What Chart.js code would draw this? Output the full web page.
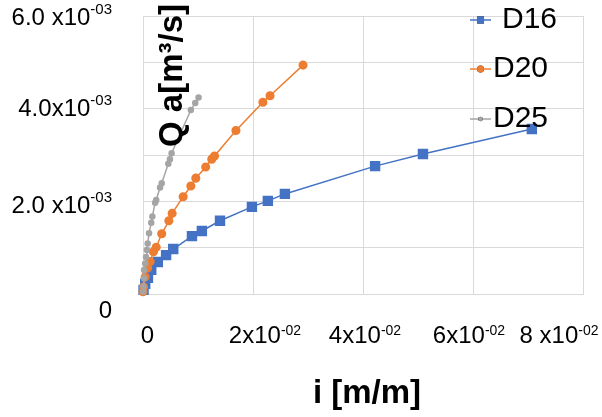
<!DOCTYPE html>
<html>
<head>
<meta charset="utf-8">
<script src="https://cdn.jsdelivr.net/npm/chart.js@4/dist/chart.umd.min.js"></script>
<style>
html,body{margin:0;padding:0;background:#fff;}
#wrap{width:602px;height:417px;position:relative;}
</style>
</head>
<body>
<div id="wrap"><canvas id="c" width="602" height="417"></canvas></div>
<script>
// ---- data (i [m/m], Q [m3/s]) ----
const seriesNames = ['D16', 'D20', 'D25'];
const d16I = [0.0001, 0.0004, 0.0009, 0.0015, 0.0027, 0.0042, 0.0055, 0.0089, 0.0107, 0.0140, 0.0198, 0.0227, 0.0258, 0.0422, 0.0509, 0.0707];
const d16Q = [0.00009, 0.00022, 0.00035, 0.00052, 0.00069, 0.00084, 0.00097, 0.00125, 0.00136, 0.00158, 0.00188, 0.00201, 0.00216, 0.00276, 0.00302, 0.00356];
const d20I = [0.0000, 0.0001, 0.0004, 0.00085, 0.0013, 0.0019, 0.0024, 0.0034, 0.0047, 0.0053, 0.0073, 0.0087, 0.0096, 0.0114, 0.0125, 0.0130, 0.0169, 0.0218, 0.0231, 0.0291];
const d20Q = [0.00005, 0.00015, 0.00037, 0.00056, 0.00070, 0.00091, 0.00101, 0.00130, 0.00158, 0.00174, 0.00210, 0.00233, 0.00250, 0.00274, 0.00291, 0.00298, 0.00353, 0.00414, 0.00428, 0.00494];
const d25I = [0.00005, 0.0001, 0.00018, 0.0002, 0.0004, 0.00055, 0.0007, 0.00085, 0.0011, 0.0015, 0.0017, 0.0022, 0.0024, 0.0031, 0.0034, 0.0046, 0.0049, 0.0052, 0.0087, 0.0095, 0.0101];
const d25Q = [0.00005, 0.00016, 0.00034, 0.00052, 0.00066, 0.00080, 0.00095, 0.00109, 0.00131, 0.00154, 0.00167, 0.00197, 0.00203, 0.00230, 0.00239, 0.00281, 0.00291, 0.00304, 0.00397, 0.00412, 0.00424];

// ---- tick labels ----
const iTicks = [0, 0.02, 0.04, 0.06, 0.08];
const iTickMain = ['0', '2x10', '4x10', '6x10', '8 x10'];
const iTickExp = ['', '-02', '-02', '-02', '-02'];
const qTicks = [0, 0.002, 0.004, 0.006];
const qTickMain = ['0', '2.0 x10', '4.0x10', '6.0 x10'];
const qTickExp = ['', '-03', '-03', '-03'];
const xTitle = 'i [m/m]';
const yTitle = 'Q a[m\u00B3/s]';

// ---- layout / style (not data) ----
const FONT = '"Liberation Sans", Arial, sans-serif';
const LAYOUT = {
  xLabelDx: [4.5, 12, 2, -4, -24],
  xLabelBaseDy: 49,
  yLabelRight: 112,
  yLabelDy: [24, 12, 7, 9],
  legendLineX: [470, 491],
  legendTextX: [502, 493, 493],
  legendY: [20, 69, 119],
  xTitlePos: [367, 403],
  yTitlePos: [182, 75.5]
};
const COLORS = ['#4472C4', '#ED7D31', '#A5A5A5'];

function pts(xs, ys) { return xs.map((x, k) => ({ x: x, y: ys[k] })); }

function drawSupText(ctx, main, sup, x, y, mainPx, supPx, raise, align) {
  ctx.font = mainPx + 'px ' + FONT;
  const wm = ctx.measureText(main).width;
  ctx.font = supPx + 'px ' + FONT;
  const ws = sup ? ctx.measureText(sup).width : 0;
  const total = wm + ws;
  let left = x;
  if (align === 'right') left = x - total;
  else if (align === 'center') left = x - total / 2;
  ctx.textAlign = 'left';
  ctx.textBaseline = 'alphabetic';
  ctx.font = mainPx + 'px ' + FONT;
  ctx.fillText(main, left, y);
  if (sup) {
    ctx.font = supPx + 'px ' + FONT;
    ctx.fillText(sup, left + wm, y - raise);
  }
}

const textPlugin = {
  id: 'textPlugin',
  afterDraw(chart) {
    const ctx = chart.ctx;
    const xs = chart.scales.x, ys = chart.scales.y;
    ctx.save();
    ctx.fillStyle = '#000';
    // x tick labels
    iTicks.forEach((v, k) => {
      const px = xs.getPixelForValue(v) + LAYOUT.xLabelDx[k];
      const py = ys.getPixelForValue(0) + LAYOUT.xLabelBaseDy;
      drawSupText(ctx, iTickMain[k], iTickExp[k], px, py, 24, 14, 8, 'center');
    });
    // y tick labels
    qTicks.forEach((v, k) => {
      const py = ys.getPixelForValue(v) + LAYOUT.yLabelDy[k];
      drawSupText(ctx, qTickMain[k], qTickExp[k], LAYOUT.yLabelRight, py, 24, 15, 11, 'right');
    });
    // axis titles
    ctx.font = 'bold 33px ' + FONT;
    ctx.textAlign = 'center';
    ctx.textBaseline = 'alphabetic';
    ctx.fillText(xTitle, LAYOUT.xTitlePos[0], LAYOUT.xTitlePos[1]);
    ctx.save();
    ctx.translate(LAYOUT.yTitlePos[0], LAYOUT.yTitlePos[1]);
    ctx.rotate(-Math.PI / 2);
    ctx.fillText(yTitle, 0, 0);
    ctx.restore();
    // legend
    chart.data.datasets.forEach((ds, k) => {
      const y = LAYOUT.legendY[k];
      ctx.strokeStyle = ds.borderColor;
      ctx.lineWidth = 1.5;
      ctx.beginPath();
      ctx.moveTo(LAYOUT.legendLineX[0], y);
      ctx.lineTo(LAYOUT.legendLineX[1], y);
      ctx.stroke();
      const cx = (LAYOUT.legendLineX[0] + LAYOUT.legendLineX[1]) / 2;
      Chart.helpers.drawPoint(ctx, {
        pointStyle: ds.pointStyle, radius: ds.legendRadius, borderWidth: 0, rotation: 0
      }, cx, y);
      ctx.fillStyle = ds.pointBackgroundColor;
      ctx.fill();
      ctx.fillStyle = '#000';
      ctx.font = '30px ' + FONT;
      ctx.textAlign = 'left';
      ctx.textBaseline = 'middle';
      ctx.fillText(seriesNames[k], LAYOUT.legendTextX[k], y);
    });
    ctx.restore();
  }
};

const datasets = [
  { label: seriesNames[0], data: pts(d16I, d16Q), borderColor: COLORS[0], backgroundColor: COLORS[0],
    pointBackgroundColor: COLORS[0], pointBorderColor: COLORS[0], pointStyle: 'rect', pointRadius: 6.3,
    legendRadius: 5, borderWidth: 1.5, showLine: true, order: 2, clip: false },
  { label: seriesNames[1], data: pts(d20I, d20Q), borderColor: COLORS[1], backgroundColor: COLORS[1],
    pointBackgroundColor: COLORS[1], pointBorderColor: COLORS[1], pointStyle: 'circle', pointRadius: 3.8,
    legendRadius: 3.5, borderWidth: 1.5, showLine: true, order: 1, clip: false },
  { label: seriesNames[2], data: pts(d25I, d25Q), borderColor: COLORS[2], backgroundColor: COLORS[2],
    pointBackgroundColor: COLORS[2], pointBorderColor: COLORS[2], pointStyle: 'circle', pointRadius: 2.5,
    legendRadius: 2.3, borderWidth: 1.5, showLine: true, order: 0, clip: false }
];

new Chart(document.getElementById('c'), {
  type: 'scatter',
  data: { datasets: datasets },
  options: {
    responsive: false,
    animation: false,
    devicePixelRatio: 1,
    layout: { padding: { left: 143, right: 19, top: 16, bottom: 123 } },
    plugins: { legend: { display: false }, tooltip: { enabled: false } },
    elements: { line: { tension: 0 }, point: { borderWidth: 0 } },
    scales: {
      x: {
        type: 'linear', min: 0, max: 0.08,
        ticks: { display: false, stepSize: 0.02 },
        grid: { color: '#d9d9d9', lineWidth: 1, drawTicks: false },
        border: { display: true, color: '#d9d9d9' }
      },
      y: {
        type: 'linear', min: 0, max: 0.006,
        ticks: { display: false, stepSize: 0.001 },
        grid: { color: '#d9d9d9', lineWidth: 1, drawTicks: false },
        border: { display: true, color: '#d9d9d9' }
      }
    }
  },
  plugins: [textPlugin]
});
</script>
</body>
</html>
